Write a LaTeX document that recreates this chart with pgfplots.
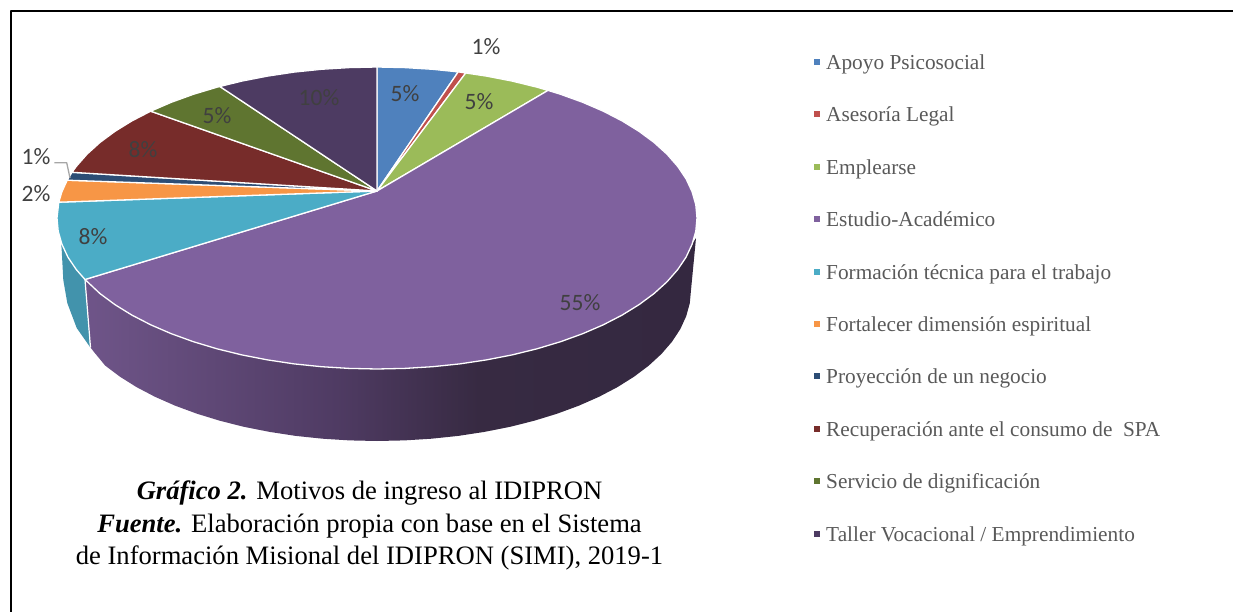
\documentclass[border=0pt]{standalone}
\usepackage{fontspec}
\setmainfont{Liberation Serif}
\newfontfamily\calibri{Carlito}
\usepackage{pgfplots}
\pgfplotsset{compat=1.18}
\definecolor{cBlue}{HTML}{4F81BD}
\definecolor{cRed}{HTML}{C0504D}
\definecolor{cGreen}{HTML}{9BBB59}
\definecolor{cPurple}{HTML}{7F619E}
\definecolor{cCyan}{HTML}{4BACC6}
\definecolor{cOrange}{HTML}{F79646}
\definecolor{cNavy}{HTML}{2C4D75}
\definecolor{cDRed}{HTML}{772C2A}
\definecolor{cOlive}{HTML}{5F7530}
\definecolor{cDPurple}{HTML}{4D3B62}
\definecolor{cCyanSide}{HTML}{4293AC}
\definecolor{lblc}{HTML}{404040}
\definecolor{legc}{HTML}{595959}
\definecolor{sA}{HTML}{6F5589}
\definecolor{sB}{HTML}{4F3B63}
\definecolor{sC}{HTML}{372A42}
\definecolor{sD}{HTML}{342840}
\pgfdeclarehorizontalshading{purpleside}{100bp}{
  color(0bp)=(sA); color(25bp)=(sA); color(45.6bp)=(sB); color(57.2bp)=(sC); color(75bp)=(sD); color(100bp)=(sD)}
\tikzset{
  pieslice/.style={draw=white, line width=1.3pt, fill=#1},
  lbltxt/.style={font=\calibri\fontsize{23.5}{24}\selectfont, text=lblc, inner sep=0pt, anchor=center},
  legtxt/.style={font=\fontsize{21.3}{23}\selectfont, text=legc, inner sep=0pt, anchor=base west},
  captxt/.style={font=\fontsize{26.6}{28}\selectfont, text=black, inner sep=0pt, anchor=base},
}
\begin{document}
\begin{tikzpicture}
\path[use as bounding box] (0,0) rectangle (1233pt,612pt);
\begin{axis}[
  scale only axis, width=1233pt, height=612pt,
  xmin=0, xmax=1233, ymin=0, ymax=612, y dir=reverse,
  hide axis, clip=false,
  every axis plot/.append style={line join=round},
]
% frame
\addplot[black, line width=2pt] coordinates {(11,612) (11,11) (1233,11)};
% sides
\addplot[fill=cCyanSide, draw=none] coordinates {(85,279.5) (76.3,269.6) (67.9,257.1) (61,241) (61.7,250) (63.3,280) (67.3,303) (76.7,328) (90,347)} -- cycle;
\addplot[shading=purpleside, draw=none] coordinates {(85,279.5) (90.5,347.5) (94,352) (105.1,365.5) (119.8,376.6) (136.5,387.1) (155,396.8) (175.2,405.7) (196.9,413.7) (220,420.8) (244.3,426.9) (269.6,431.9) (295.7,435.9) (322.5,438.7) (349.6,440.4) (377,441) (404.4,440.4) (431.5,438.7) (458.3,435.9) (484.4,431.9) (509.7,426.9) (534,420.8) (557.1,413.7) (578.8,405.7) (599,396.8) (617.5,387.1) (634.2,376.6) (648.9,365.5) (661.6,353.8) (672.1,341.6) (680.3,329.1) (686.2,316.2) (689.8,303.2) (691,290) (696,238) (692.1,244.2) (686.1,257.1) (677.7,269.6) (667,281.8) (654.1,293.5) (639.1,304.6) (622.1,315.1) (603.3,324.8) (582.7,333.7) (560.6,341.7) (537,348.8) (512.2,354.9) (486.4,359.9) (459.8,363.9) (432.6,366.7) (404.9,368.4) (377,369) (349.1,368.4) (321.4,366.7) (294.2,363.9) (267.6,359.9) (241.8,354.9) (217,348.8) (193.4,341.7) (171.3,333.7) (150.7,324.8) (131.9,315.1) (114.9,304.6) (99.9,293.5)} -- cycle;
\addplot[white, line width=1.2pt] coordinates {(85,279.5) (90.5,347.5)};
% top slices
\addplot[pieslice=cBlue] coordinates {(377,191) (377,67) (404.9,67.6) (432.6,69.3) (458.2,71.9)} -- cycle;
\addplot[pieslice=cRed] coordinates {(377,191) (458.2,71.9) (465.7,73)} -- cycle;
\addplot[pieslice=cGreen] coordinates {(377,191) (465.7,73) (486.4,76.1) (512.2,81.1) (537,87.2) (548,90.4)} -- cycle;
\addplot[pieslice=cPurple] coordinates {(377,191) (548,90.4) (560.6,94.3) (582.7,102.3) (603.3,111.2) (622.1,120.9) (639.1,131.4) (654.1,142.5) (667,154.2) (677.7,166.4) (686.1,178.9) (692.1,191.8) (695.8,204.8) (697,218) (695.8,231.2) (692.1,244.2) (686.1,257.1) (677.7,269.6) (667,281.8) (654.1,293.5) (639.1,304.6) (622.1,315.1) (603.3,324.8) (582.7,333.7) (560.6,341.7) (537,348.8) (512.2,354.9) (486.4,359.9) (459.8,363.9) (432.6,366.7) (404.9,368.4) (377,369) (349.1,368.4) (321.4,366.7) (294.2,363.9) (267.6,359.9) (241.8,354.9) (217,348.8) (193.4,341.7) (171.3,333.7) (150.7,324.8) (131.9,315.1) (114.9,304.6) (99.9,293.5) (85,279.5)} -- cycle;
\addplot[pieslice=cCyan] coordinates {(377,191) (85,279.5) (76.3,269.6) (67.9,257.1) (61.9,244.2) (58.2,231.2) (57,218) (58.8,202.2)} -- cycle;
\addplot[pieslice=cOrange] coordinates {(377,191) (58.8,202.2) (61.9,191.8) (67.2,180.2)} -- cycle;
\addplot[pieslice=cNavy] coordinates {(377,191) (67.2,180.2) (72,172.3)} -- cycle;
\addplot[pieslice=cDRed] coordinates {(377,191) (72,172.3) (76.3,166.4) (87,154.2) (99.9,142.5) (114.9,131.4) (131.9,120.9) (150.7,111.2)} -- cycle;
\addplot[pieslice=cOlive] coordinates {(377,191) (150.7,111.2) (171.3,102.3) (193.4,94.3) (217,87.2) (219.9,86.5)} -- cycle;
\addplot[pieslice=cDPurple] coordinates {(377,191) (219.9,86.5) (241.8,81.1) (267.6,76.1) (294.2,72.1) (321.4,69.3) (349.1,67.6) (377,67)} -- cycle;
% leader
\addplot[color=black!35, line width=1.3pt] coordinates {(54.3,162.7) (66.7,162.7) (70,178)};
% data labels
\node[lbltxt] at (axis cs:405,94) {5\%};
\node[lbltxt] at (axis cs:486,46.5) {1\%};
\node[lbltxt] at (axis cs:479,102) {5\%};
\node[lbltxt] at (axis cs:580,302.5) {55\%};
\node[lbltxt] at (axis cs:93,236.5) {8\%};
\node[lbltxt] at (axis cs:36,193.5) {2\%};
\node[lbltxt] at (axis cs:36,156.5) {1\%};
\node[lbltxt] at (axis cs:143,150) {8\%};
\node[lbltxt] at (axis cs:217,116) {5\%};
\node[lbltxt] at (axis cs:319,98) {10\%};
% legend
\addplot[only marks, color=cBlue, mark=square*, mark size=2.6pt] coordinates {(817,62)};
\addplot[only marks, color=cRed, mark=square*, mark size=2.6pt] coordinates {(817,114)};
\addplot[only marks, color=cGreen, mark=square*, mark size=2.6pt] coordinates {(817,167)};
\addplot[only marks, color=cPurple, mark=square*, mark size=2.6pt] coordinates {(817,219)};
\addplot[only marks, color=cCyan, mark=square*, mark size=2.6pt] coordinates {(817,272)};
\addplot[only marks, color=cOrange, mark=square*, mark size=2.6pt] coordinates {(817,324)};
\addplot[only marks, color=cNavy, mark=square*, mark size=2.6pt] coordinates {(817,376)};
\addplot[only marks, color=cDRed, mark=square*, mark size=2.6pt] coordinates {(817,429)};
\addplot[only marks, color=cOlive, mark=square*, mark size=2.6pt] coordinates {(817,481)};
\addplot[only marks, color=cDPurple, mark=square*, mark size=2.6pt] coordinates {(817,534)};
\node[legtxt] at (axis cs:826,69.5) {Apoyo Psicosocial};
\node[legtxt] at (axis cs:826,121.5) {Asesoría Legal};
\node[legtxt] at (axis cs:826,174.5) {Emplearse};
\node[legtxt] at (axis cs:826,226.5) {Estudio-Académico};
\node[legtxt] at (axis cs:826,279.5) {Formación técnica para el trabajo};
\node[legtxt] at (axis cs:826,331.5) {Fortalecer dimensión espiritual};
\node[legtxt] at (axis cs:826,383.5) {Proyección de un negocio};
\node[legtxt] at (axis cs:826,436.5) {Recuperación ante el consumo de\ \ SPA};
\node[legtxt] at (axis cs:826,488.5) {Servicio de dignificación};
\node[legtxt] at (axis cs:826,541.5) {Taller Vocacional / Emprendimiento};
% caption
\node[captxt] at (axis cs:369.5,499.5) {\textbf{\textit{Gráfico 2.}} Motivos de ingreso al IDIPRON};
\node[captxt] at (axis cs:369.5,532) {\textbf{\textit{Fuente.}} Elaboración propia con base en el Sistema};
\node[captxt] at (axis cs:369.5,564.5) {de Información Misional del IDIPRON (SIMI), 2019-1};
\end{axis}
\end{tikzpicture}
\end{document}
